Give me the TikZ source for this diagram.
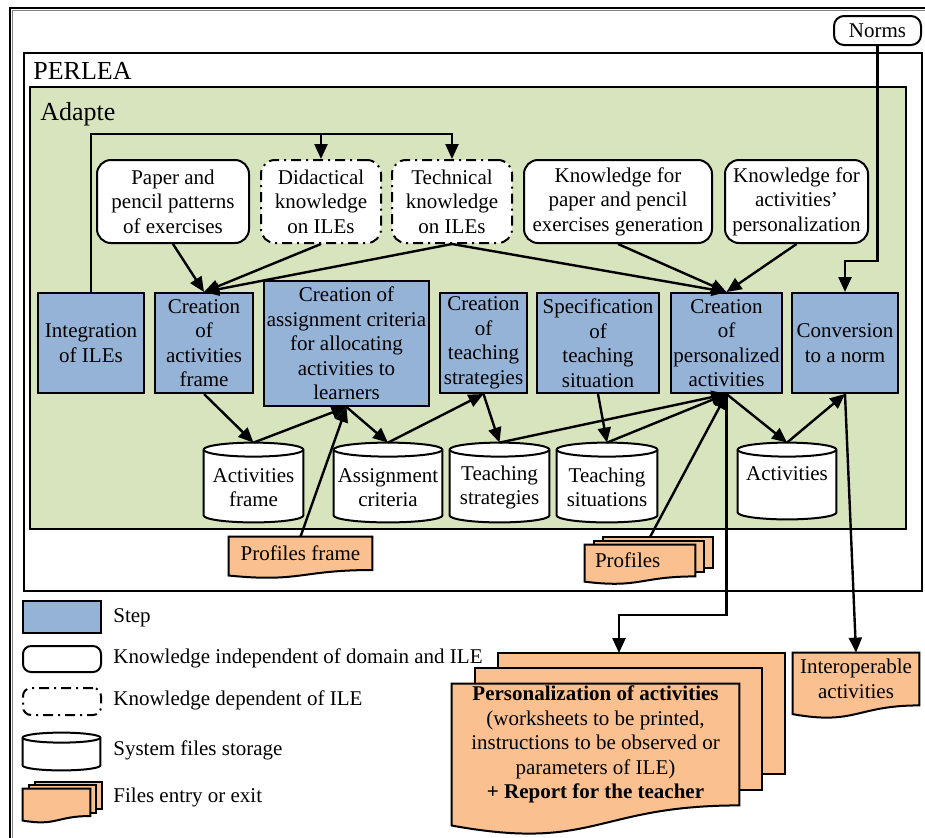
\documentclass[tikz,border=0pt]{standalone}
\usepackage{fontspec}
\setmainfont{Liberation Serif}
\usetikzlibrary{arrows.meta,calc,positioning}

\definecolor{stepblue}{RGB}{149,179,215}
\definecolor{adaptegreen}{RGB}{215,228,189}
\definecolor{fileorange}{RGB}{250,192,144}

\pgfdeclarelayer{frame}
\pgfdeclarelayer{shapes}
\pgfsetlayers{frame,shapes,main}

\newcommand{\cantop}{\rule{0pt}{12pt}}

\tikzset{
  txt/.style={font=\fontsize{10.5}{12.25}\selectfont, align=center, inner sep=0pt},
  stepbox/.style={txt, draw, line width=1pt, fill=stepblue},
  knowbox/.style={txt, draw, line width=1pt, fill=white, rounded corners=7pt},
  ilebox/.style={knowbox, dash pattern=on 5pt off 2.5pt on 1pt off 2.5pt},
  storage/.style={txt},
  filebox/.style={txt},
  canline/.style={draw, line width=1pt, fill=white},
  docline/.style={draw, line width=1pt, fill=fileorange},
  arr/.style={line width=1.2pt, -{Triangle[length=7.5pt,width=6.5pt]}},
  title/.style={font=\fontsize{13}{15}\selectfont, inner sep=0pt, anchor=base west},
  legend/.style={txt, anchor=base west},
}

% cylinder drawn round a node
\newcommand{\canoutline}[2][3.5pt]{%
  \begin{pgfonlayer}{shapes}
  \path[canline] let \p1=(#2.north west), \p2=(#2.south east), \n1={(\x2-\x1)/2} in
    (\x1,\y1-#1) -- (\x1,\y2+#1)
    arc[start angle=180, end angle=360, x radius={\n1*1pt}, y radius=#1]
    -- (\x2,\y1-#1)
    arc[start angle=0, end angle=180, x radius={\n1*1pt}, y radius=#1] -- cycle;
  \path[canline] let \p1=(#2.north west), \p2=(#2.south east), \n1={(\x2-\x1)/2} in
    (\x1,\y1-#1) arc[start angle=180, end angle=360, x radius={\n1*1pt}, y radius=#1];
  \end{pgfonlayer}}

% document with wavy bottom round a node
\newcommand{\docoutline}[1]{%
  \begin{pgfonlayer}{shapes}
  \path[docline] let \p1=(#1.north west), \p2=(#1.south east) in
    (\x1,\y1) -- (\x2,\y1) -- (\x2,\y2)
    .. controls ({(\x1+\x2)/2},\y2) and ({(\x1+\x2)/2},{\y2-0.381*(\y1-\y2)}) ..
    (\x1,{\y2-0.165*(\y1-\y2)}) -- cycle;
  \end{pgfonlayer}}

% stack of documents: node, dx, dy
\newcommand{\sheets}[3]{%
  \begin{pgfonlayer}{shapes}
  \path[docline] let \p1=(#1.north west), \p2=(#1.south east) in
    (\x1+2*#2,\y1+2*#3) rectangle (\x2+2*#2,\y2+2*#3);
  \path[docline] let \p1=(#1.north west), \p2=(#1.south east) in
    (\x1+#2,\y1+#3) rectangle (\x2+#2,\y2+#3);
  \end{pgfonlayer}
  \docoutline{#1}}

\begin{document}
\begin{tikzpicture}[x=0.5pt, y=-0.5pt]
    \useasboundingbox (0,0) rectangle (925,837);

    % Frames
    \begin{pgfonlayer}{frame}
    \draw[line width=0.6pt] (10,8) rectangle (940,850);
    \draw[gray, line width=0.4pt] (12,10) rectangle (938,848);
    \draw[line width=1.3pt] (24,53) rectangle (922,591);
    \draw[line width=1pt, fill=adaptegreen] (30,87) rectangle (906,529);
    \end{pgfonlayer}
    \node[title] (perlea) at (33,79) {PERLEA};
    \node[title] (adapte) at (40,120) {Adapte};

    % Knowledge
    \node[knowbox, minimum width=76pt, minimum height=41.5pt] (pap) at (173,201.5) {Paper and\\pencil patterns\\of exercises};
    \node[ilebox, minimum width=60pt, minimum height=41.5pt] (did) at (321,201.5) {Didactical\\knowledge\\on ILEs};
    \node[ilebox, minimum width=60pt, minimum height=41.5pt] (tech) at (452,201.5) {Technical\\knowledge\\on ILEs};
    \node[knowbox, minimum width=94pt, minimum height=41.5pt] (kgen) at (618,201.5) {Knowledge for\\paper and pencil\\exercises generation};
    \node[knowbox, minimum width=71.5pt, minimum height=41.5pt] (kpers) at (796.5,201.5) {Knowledge for\\activities’\\personalization};
    \node[knowbox, rounded corners=5pt, minimum width=43.5pt, minimum height=14.5pt] (norms) at (877.5,30.5) {Norms};

    % Steps
    \node[stepbox, minimum width=53pt, minimum height=50pt] (integ) at (91,343) {Integration\\of ILEs};
    \node[stepbox, minimum width=49pt, minimum height=50pt] (cafr) at (204,343) {Creation\\of\\activities\\frame};
    \node[stepbox, minimum width=82.5pt, minimum height=62.5pt] (cac) at (346.5,343.5) {Creation of\\assignment criteria\\for allocating\\activities to\\learners};
    \node[stepbox, minimum width=43.5pt, minimum height=50pt] (cts) at (483.5,343) {Creation\\of\\teaching\\strategies};
    \node[stepbox, minimum width=61pt, minimum height=50pt] (spec) at (598,343) {Specification\\of\\teaching\\situation};
    \node[stepbox, minimum width=55.5pt, minimum height=50pt] (cpa) at (726.5,343) {Creation\\of\\personalized\\activities};
    \node[stepbox, minimum width=53pt, minimum height=50pt] (conv) at (845,343) {Conversion\\to a norm};

    % Storage
    \node[storage, minimum width=49.5pt, minimum height=39.5pt] (afr) at (253.5,482.5) {\cantop Activities\\frame};
    \node[storage, minimum width=54pt, minimum height=39.5pt] (asc) at (388,482.5) {\cantop Assignment\\criteria};
    \node[storage, minimum width=49.5pt, minimum height=39.5pt] (tst) at (499.5,482.5) {\cantop Teaching\\strategies};
    \node[storage, minimum width=50pt, minimum height=39.5pt] (tsi) at (607,482.5) {\cantop Teaching\\situations};
    \node[storage, minimum width=49pt, minimum height=38pt] (act) at (787,481) {\cantop Activities\\~};
    \canoutline{afr}
    \canoutline{asc}
    \canoutline{tst}
    \canoutline{tsi}
    \canoutline{act}

    % Files
    \node[filebox, minimum width=71.5pt, minimum height=16.3pt] (pfr) at (300.5,553.3) {\raisebox{-3pt}{Profiles frame}};
    \docoutline{pfr}
    \node[filebox, minimum height=15.5pt, text width=45pt, inner xsep=5pt, align=left] (prf) at (640,560.5) {\raisebox{-2pt}{Profiles}};
    \sheets{prf}{4.5pt}{2pt}
    \coordinate (prfin) at (650,537);
    \node[filebox, minimum width=63pt, minimum height=26pt] (interop) at (856,679) {Interoperable\\activities};
    \docoutline{interop}
    \node[filebox, minimum width=143.5pt, minimum height=60.5pt] (pers) at (595.5,744.5) {\textbf{Personalization of activities}\\(worksheets to be printed,\\instructions to be observed or\\parameters of ILE)\\\textbf{+ Report for the teacher}};
    \sheets{pers}{11.5pt}{7.75pt}
    \coordinate (outin) at (619,653);

    % Connectors
    \coordinate (ilebar) at (91,134);
    \draw[arr] (integ.north) -- (ilebar) -| (tech.north);
    \draw[arr] (ilebar -| did.north) -- (did.north);
    \draw[arr] (pap.south) -- (cafr.north);
    \draw[arr] (did.south) -- (cafr.north);
    \draw[arr] (tech.south) -- (cafr.north);
    \draw[arr] (tech.south) -- (cpa.north);
    \draw[arr] (kgen.south) -- (cpa.north);
    \draw[arr] (kpers.south) -- (cpa.north);
    \draw[arr] (norms.south) -- ++(0,215) -| (conv.north);
    \draw[arr] (cafr.south) -- (afr.north);
    \draw[arr] (afr.north) -- (cac.south);
    \draw[arr] (pfr.north) -- (cac.south);
    \draw[arr] (cac.south) -- (asc.north);
    \draw[arr] (asc.north) -- (cts.south);
    \draw[arr] (cts.south) -- (tst.north);
    \draw[arr] (tst.north) -- (cpa.south);
    \draw[arr] (spec.south) -- (tsi.north);
    \draw[arr] (tsi.north) -- (cpa.south);
    \draw[arr] (prfin) -- (cpa.south);
    \draw[arr] (cpa.south) -- (act.north);
    \draw[arr] (act.north) -- (conv.south);
    \draw[arr] (cpa.south) -- ++(0,221) -| (outin);
    \draw[arr] (conv.south) -- (interop.north);

    % Legend
    \node[stepbox, minimum width=39pt, minimum height=16pt] (lgstep) at (62,617) {};
    \node[knowbox, rounded corners=4pt, minimum width=39pt, minimum height=13pt] (lgknow) at (62,659) {};
    \node[ilebox, rounded corners=4pt, minimum width=39pt, minimum height=13.5pt] (lgile) at (62,701.5) {};
    \node[storage, minimum width=38.5pt, minimum height=18.5pt] (lgcan) at (61.5,751.5) {};
    \canoutline[2.5pt]{lgcan}
    \node[filebox, minimum width=33.5pt, minimum height=13.3pt] (lgfile) at (56.5,802.3) {};
    \sheets{lgfile}{3pt}{1.75pt}
    \node[legend] (lgsteptxt) at (113,622) {Step};
    \node[legend] (lgknowtxt) at (113,663) {Knowledge independent of domain and ILE};
    \node[legend] (lgiletxt) at (113,705) {Knowledge dependent of ILE};
    \node[legend] (lgcantxt) at (113,755) {System files storage};
    \node[legend] (lgfiletxt) at (113,802) {Files entry or exit};
\end{tikzpicture}
\end{document}
